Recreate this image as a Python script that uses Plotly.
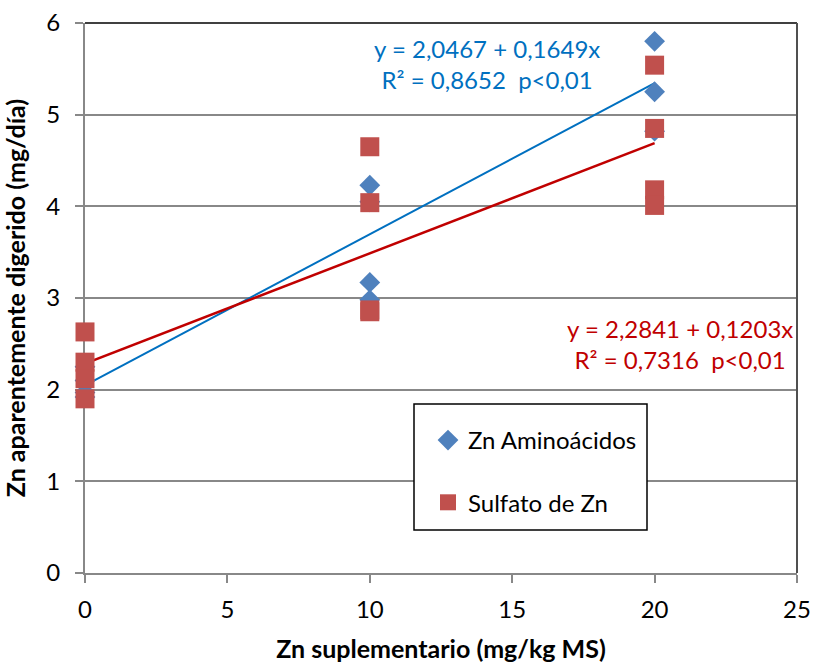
import plotly.graph_objects as go

# Supplemented Zn (mg/kg MS) and apparently digested Zn (mg/day)
amino_x = [0, 0, 0, 0, 10, 10, 10, 10, 20, 20, 20]
amino_y = [2.25, 2.10, 1.97, 1.92, 4.23, 4.05, 3.17, 2.98, 5.80, 5.25, 4.82]

sulfato_x = [0, 0, 0, 0, 10, 10, 10, 10, 20, 20, 20, 20]
sulfato_y = [2.63, 2.30, 2.12, 1.90, 4.65, 4.04, 2.87, 2.85, 5.54, 4.85, 4.18, 4.01]

# Fitted regressions (intercept, slope)
amino_fit = (2.0467, 0.1649)
sulfato_fit = (2.2841, 0.1203)
fit_x = [0, 20]

series_names = ["Zn Aminoácidos", "Sulfato de Zn"]
amino_eq = ["y = 2,0467 + 0,1649x", "R² = 0,8652  p<0,01"]
sulfato_eq = ["y = 2,2841 + 0,1203x", "R² = 0,7316  p<0,01"]

x_ticks = [0, 5, 10, 15, 20, 25]
y_ticks = [0, 1, 2, 3, 4, 5, 6]

FONT = "Lato"
FS = 24
BLUE_M = "#4F81BD"
RED_M = "#C0504D"
BLUE_L = "#0070C0"
RED_L = "#C00000"
GRID = "#888888"

fig = go.Figure()

fig.add_trace(go.Scatter(
    x=fit_x, y=[amino_fit[0] + amino_fit[1] * v for v in fit_x],
    mode="lines", line=dict(color=BLUE_L, width=2), showlegend=False, hoverinfo="skip"))
fig.add_trace(go.Scatter(
    x=fit_x, y=[sulfato_fit[0] + sulfato_fit[1] * v for v in fit_x],
    mode="lines", line=dict(color=RED_L, width=2.5), showlegend=False, hoverinfo="skip"))

fig.add_trace(go.Scatter(
    x=amino_x, y=amino_y, mode="markers", name=series_names[0], legendgroup="a",
    cliponaxis=False,
    marker=dict(symbol="diamond", size=16, color=BLUE_M, line=dict(width=0))))
fig.add_trace(go.Scatter(
    x=sulfato_x, y=sulfato_y, mode="markers", name=series_names[1], legendgroup="s",
    cliponaxis=False,
    marker=dict(symbol="square", size=19, color=RED_M, line=dict(width=0))))

# Regression equations
fig.add_annotation(x=14.1, y=5.55, text="<br>".join(amino_eq), showarrow=False,
                   font=dict(family=FONT, size=FS, color=BLUE_L))
fig.add_annotation(x=20.9, y=2.50, text="<br>".join(sulfato_eq), showarrow=False,
                   font=dict(family=FONT, size=FS, color=RED_L))

# Legend frame
fig.add_shape(type="rect", xref="paper", yref="paper",
              x0=(414 - 85) / 712, x1=(647 - 85) / 712,
              y0=(573 - 530) / 550, y1=(573 - 404) / 550,
              fillcolor="white", line=dict(color="black", width=1.5), layer="above")

fig.update_layout(
    width=814, height=663,
    margin=dict(l=85, r=17, t=23, b=90),
    paper_bgcolor="white", plot_bgcolor="white",
    font=dict(family=FONT, size=FS, color="#000000"),
    showlegend=True,
    legend=dict(x=(428 - 85) / 712, y=(573 - 418) / 550, xanchor="left", yanchor="top",
                bgcolor="rgba(0,0,0,0)", borderwidth=0,
                font=dict(family=FONT, size=FS), tracegroupgap=28,
                itemsizing="trace"),
    xaxis=dict(range=[0, 25], tickvals=x_ticks, showgrid=False, zeroline=False,
               showline=True, linecolor=GRID, linewidth=2, automargin=False,
               layer="below traces",
               ticks="outside", ticklen=8, tickwidth=2, tickcolor=GRID,
               tickfont=dict(family=FONT, size=FS), ticklabelstandoff=6,
               title=dict(text="<b>Zn suplementario (mg/kg MS)</b>",
                          font=dict(family=FONT, size=25), standoff=20)),
    yaxis=dict(range=[0, 6], tickvals=y_ticks, showgrid=True, gridcolor=GRID, gridwidth=2,
               zeroline=False, showline=True, linecolor=GRID, linewidth=2, automargin=False,
               layer="below traces",
               ticks="outside", ticklen=8, tickwidth=2, tickcolor=GRID,
               tickfont=dict(family=FONT, size=FS), ticklabelstandoff=10,
               title=dict(text="<b>Zn aparentemente digerido (mg/día)</b>",
                          font=dict(family=FONT, size=25), standoff=14)),
)

# Plot-area frame on top and right
fig.add_shape(type="line", xref="paper", yref="paper", x0=0, x1=1, y0=1, y1=1,
              line=dict(color="#404040", width=2))
fig.add_shape(type="line", xref="paper", yref="paper", x0=1, x1=1, y0=0, y1=1,
              line=dict(color="#505050", width=2))

fig.write_html("out.html")
